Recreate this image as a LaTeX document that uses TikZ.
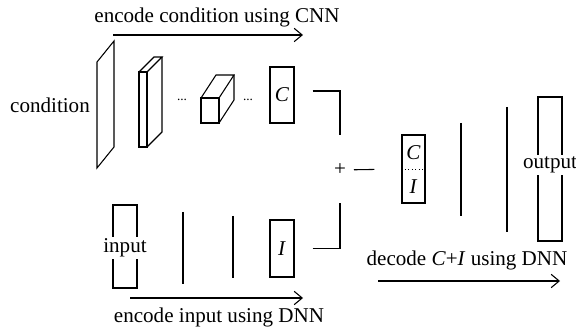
\documentclass[tikz,border=0pt]{standalone}
\usepackage{fontspec}
\setmainfont{Liberation Serif}
\usetikzlibrary{positioning,arrows.meta}

\begin{document}
\begin{tikzpicture}[x=0.75pt,y=-0.75pt,line width=0.8pt,
  >={Straight Barb[length=6pt,width=10pt]},
  font=\fontsize{15.8}{18}\selectfont,
  box/.style={draw,inner sep=0pt,minimum width=18pt},
  gap/.style={fill=white,inner sep=1.5pt},
  dots/.style={anchor=base,font=\fontsize{10}{12}\selectfont}]
\useasboundingbox (0,0) rectangle (576,335);
% condition encoder (CNN)
\node (cond) at (50,105) {condition};
\draw (97,62) -- (114,41) -- (114,147) -- (97,168) -- cycle;
\draw (139,72) rectangle (147,147);
\draw (139,72) -- (154,57) -- (162,57) -- (147,72);
\draw (162,57) -- (162,132) -- (147,147);
\node[dots] (dotsA) at (182,101) {...};
\draw (201,98) rectangle (219,123);
\draw (201,98) -- (216,75) -- (234,75) -- (219,98);
\draw (234,75) -- (234,100) -- (219,123);
\node[dots] (dotsB) at (248,101) {...};
\node[box,minimum height=42pt] (C) at (282,95) {\textit{C}};
% input encoder (DNN)
\node[box,minimum height=62.25pt] (in) at (125,246.5) {};
\node[gap] (inlabel) at (125,248) {input};
\draw (183,212) -- (183,284);
\draw (233,216) -- (233,278);
\node[box,minimum height=42.75pt] (I) at (282,248.5) {\textit{I}};
% concatenation
\node[inner sep=1pt] (plus) at (340,170) {+};
\draw[shorten <=13.5pt,shorten >=26.25pt] ([yshift=3pt]C.east) -| (plus.center);
\draw[shorten <=13.5pt,shorten >=24.75pt] (I.east) -| (plus.center);
\node[box,minimum width=17.25pt,minimum height=51pt] (CI) at (413.5,169) {};
\draw[dotted,line width=0.6pt] (CI.west) -- (CI.east);
\node (CIc) at (413.5,153) {\textit{C}};
\node (CIi) at (413.5,187) {\textit{I}};
\draw[shorten <=10.5pt,shorten >=20.25pt] (plus.center) -- (CI.west);
% decoder (DNN)
\draw (461,123) -- (461,216);
\draw (507,107) -- (507,232);
\node[box,minimum height=108pt] (out) at (550,169) {};
\node[gap] (outlabel) at (550,165) {output};
% arrows and captions
\coordinate (encA) at (113,35);
\coordinate (encB) at (303,35);
\draw[->] (encA) -- (encB);
\node (enctxt) at (217,17) {encode condition using CNN};
\coordinate (inA) at (130,298);
\coordinate (inB) at (303,298);
\draw[->] (inA) -- (inB);
\node (intxt) at (219,317) {encode input using DNN};
\coordinate (decA) at (378,281);
\coordinate (decB) at (560,281);
\draw[->] (decA) -- (decB);
\node (dectxt) at (467,260) {decode \textit{C}+\textit{I} using DNN};
\end{tikzpicture}
\end{document}
